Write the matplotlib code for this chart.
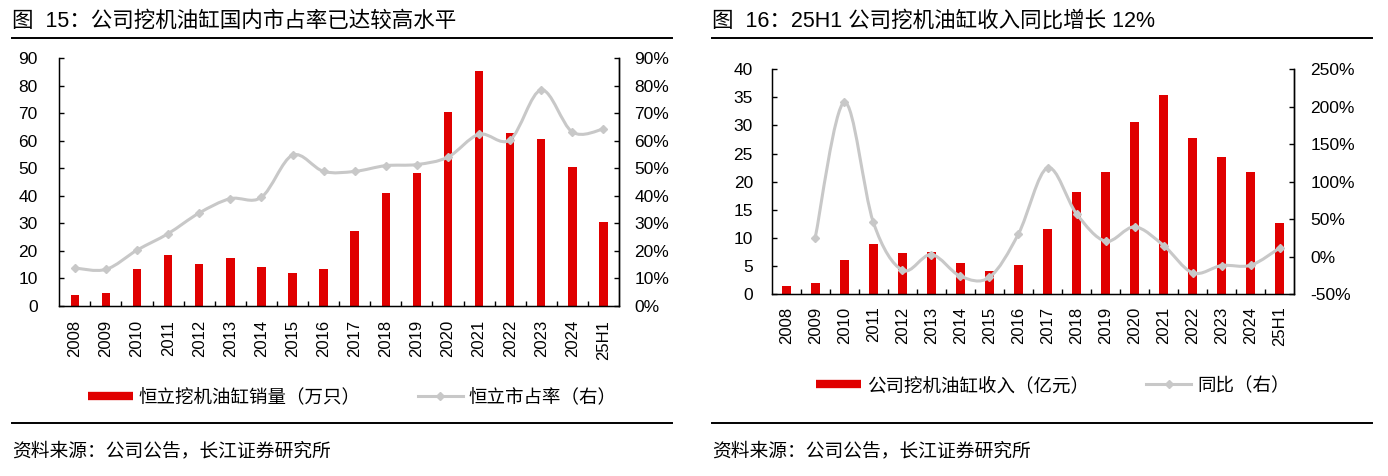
import matplotlib
matplotlib.use("Agg")
import matplotlib.pyplot as plt
from matplotlib.path import Path
from matplotlib.patches import PathPatch
from matplotlib.lines import Line2D
from matplotlib.ticker import FuncFormatter, FixedLocator

plt.rcParams['font.family'] = ['Liberation Sans', 'Noto Sans CJK SC']

years = ['2008', '2009', '2010', '2011', '2012', '2013', '2014', '2015', '2016',
         '2017', '2018', '2019', '2020', '2021', '2022', '2023', '2024', '25H1']

# 图15 数据
sales = [4.0, 4.8, 13.3, 18.4, 15.3, 17.3, 14.0, 12.1, 13.5,
         27.2, 41.1, 48.3, 70.4, 85.4, 62.8, 60.6, 50.5, 30.6]
share = [13.8, 13.3, 20.3, 26.3, 33.8, 39.0, 39.5, 54.8, 48.9,
         48.9, 51.0, 51.4, 54.1, 62.4, 60.4, 78.5, 63.2, 64.3]

# 图16 数据
revenue = [1.5, 1.9, 6.05, 8.84, 7.24, 7.48, 5.52, 4.04, 5.22,
           11.5, 18.1, 21.8, 30.6, 35.4, 27.7, 24.4, 21.8, 12.6]
yoy = [None, 25.4, 206.0, 45.8, -18.2, 2.7, -26.3, -27.6, 30.3,
       118.4, 57.0, 20.5, 39.6, 14.7, -21.8, -12.0, -11.6, 11.6]

RED = '#E00000'
GRAY = '#C8C8C8'


def smooth(xs, ys):
    # excel风格的平滑曲线
    verts = [(xs[0], ys[0])]
    codes = [Path.MOVETO]
    n = len(xs)
    for i in range(n - 1):
        a = i - 1 if i > 0 else i
        d = i + 2 if i + 2 < n else i + 1
        c1 = (xs[i] + (xs[i+1] - xs[a]) / 6, ys[i] + (ys[i+1] - ys[a]) / 6)
        c2 = (xs[i+1] - (xs[d] - xs[i]) / 6, ys[i+1] - (ys[d] - ys[i]) / 6)
        verts += [c1, c2, (xs[i+1], ys[i+1])]
        codes += [Path.CURVE4] * 3
    return Path(verts, codes)


def panel(rect, bars, line, ylim, yticks, y2lim, y2ticks, bw, pads):
    ax = fig.add_axes(rect)
    x = list(range(len(years)))
    ax.bar(x, bars, width=bw, color=RED, zorder=2)
    ax.set_xlim(-0.5, len(years) - 0.5)
    ax.set_ylim(*ylim)
    ax.set_yticks(yticks)
    ax.set_xticks(x)
    ax.set_xticklabels(years, rotation=90, fontsize=12)
    ax.xaxis.set_minor_locator(FixedLocator([i + 0.5 for i in range(len(years) - 1)]))
    ax.tick_params(axis='x', which='major', length=0, pad=pads[2])
    ax.tick_params(axis='x', which='minor', direction='in', length=3.5, width=1)
    ax.tick_params(axis='y', direction='in', length=3.5, width=1, labelsize=12.5, pad=pads[0])
    ax.spines['top'].set_visible(False)
    for s in ['left', 'right', 'bottom']:
        ax.spines[s].set_linewidth(1)

    ax2 = ax.twinx()
    ax2.set_ylim(*y2lim)
    ax2.set_yticks(y2ticks)
    ax2.yaxis.set_major_formatter(FuncFormatter(lambda v, p: f'{v:.0f}%'))
    ax2.tick_params(axis='y', direction='in', length=3.5, width=1, labelsize=12.5, pad=pads[1])
    ax2.spines['top'].set_visible(False)
    ax2.spines['right'].set_linewidth(1)
    lx = [i for i, v in zip(x, line) if v is not None]
    ly = [v for v in line if v is not None]
    ax2.add_patch(PathPatch(smooth(lx, ly), fill=False, ec=GRAY, lw=2.2, zorder=3))
    ax2.plot(lx, ly, ls='none', marker='D', ms=4, color=GRAY, zorder=4)
    return ax, ax2


fig = plt.figure(figsize=(13.88, 4.76), dpi=100)
W, H = 1388, 476

panel([59.3 / W, 1 - 306 / H, (619 - 59.3) / W, (306 - 58.3) / H],
      sales, share, (0, 90), range(0, 91, 10), (0, 90), range(0, 91, 10), 0.27,
      (15.5, 11, 10))
panel([771.7 / W, 1 - 294 / H, (1294.3 - 771.7) / W, (294 - 69.3) / H],
      revenue, yoy, (0, 40), range(0, 41, 5), (-50, 250), range(-50, 251, 50), 0.31,
      (13.5, 11.5, 9))

# 标题和分隔线
fig.text(12 / W, 1 - 21 / H, '图  15：公司挖机油缸国内市占率已达较高水平', fontsize=15.5, va='center')
fig.text(712 / W, 1 - 21 / H, '图  16：25H1 公司挖机油缸收入同比增长 12%', fontsize=15.5, va='center')
for x0, x1 in [(12, 672), (712, 1372)]:
    fig.add_artist(Line2D([x0 / W, x1 / W], [1 - 37.5 / H] * 2, color='black', lw=1.4))
    fig.add_artist(Line2D([x0 / W, x1 / W], [1 - 422.7 / H] * 2, color='black', lw=1.4))
    fig.text(x0 / W, 1 - 451.7 / H, '资料来源：公司公告，长江证券研究所', fontsize=13.5, va='center')

# 图例
bar_h = Line2D([], [], color=RED, lw=6, solid_capstyle='butt')
line_h = Line2D([], [], color=GRAY, lw=2.2, marker='D', ms=4)
fig.legend([bar_h, line_h], ['恒立挖机油缸销量（万只）', '恒立市占率（右）'],
           loc='center', bbox_to_anchor=(0.2537, 1 - 398 / H), ncol=2, frameon=False,
           fontsize=13.3, handlelength=2.45, handletextpad=0.3, columnspacing=3.1)
fig.legend([bar_h, line_h], ['公司挖机油缸收入（亿元）', '同比（右）'],
           loc='center', bbox_to_anchor=(0.7585, 1 - 386 / H), ncol=2, frameon=False,
           fontsize=13.3, handlelength=2.45, handletextpad=0.3, columnspacing=3.1)

fig.savefig('out.png', dpi=100)
